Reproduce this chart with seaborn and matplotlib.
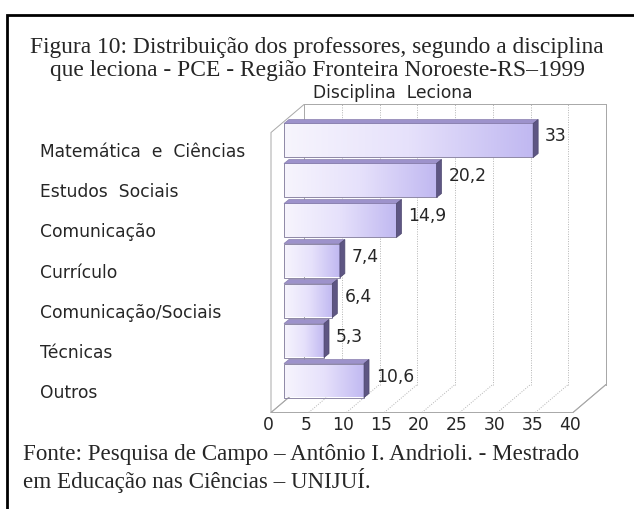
import numpy as np
import matplotlib
matplotlib.use('Agg')
import matplotlib.pyplot as plt
from matplotlib.patches import Polygon, Rectangle
from matplotlib.lines import Line2D
from matplotlib.colors import LinearSegmentedColormap
import seaborn as sns

# =========================================================
# dados
# =========================================================
disciplinas = ['Matemática  e  Ciências', 'Estudos  Sociais', 'Comunicação',
               'Currículo', 'Comunicação/Sociais', 'Técnicas', 'Outros']
valores = [33, 20.2, 14.9, 7.4, 6.4, 5.3, 10.6]
ticks_x = [0, 5, 10, 15, 20, 25, 30, 35, 40]

titulo = ('Figura 10: Distribuição dos professores, segundo a disciplina\n'
          'que leciona - PCE - Região Fronteira Noroeste-RS–1999')
subtitulo = 'Disciplina  Leciona'
fonte = ('Fonte: Pesquisa de Campo – Antônio I. Andrioli. - Mestrado\n'
         'em Educação nas Ciências – UNIJUÍ.')

# =========================================================
# figura
# =========================================================
sns.set_style('white')
W, H = 634, 509
fig = plt.figure(figsize=(W / 100, H / 100), dpi=100)
fig.patch.set_facecolor('white')

sans = ['DejaVu Sans']
serif = ['Liberation Serif', 'DejaVu Serif']
fs = 12.3

# moldura
fig.add_artist(Rectangle((7 / W, -0.1), 1.2, 1.1 - 15 / H,
                         transform=fig.transFigure, fill=False,
                         edgecolor='black', linewidth=2, zorder=5))

fig.text(0.5, 1 - 59 / H, titulo, ha='center', va='center', fontsize=16.9,
         family=serif, linespacing=1.12)
fig.text(393 / W, 1 - 93 / H, subtitulo, ha='center', va='center',
         fontsize=fs, family=sans)
fig.text(23 / W, 1 - 468.5 / H, fonte, ha='left', va='center', fontsize=16.6,
         family=serif, linespacing=1.12)

# plano frontal das barras
ax_l, ax_r, ax_t, ax_b = 284, 586, 120.5, 400.5
ax = fig.add_axes([ax_l / W, (H - ax_b) / H, (ax_r - ax_l) / W, (ax_b - ax_t) / H])
ax.patch.set_visible(False)

sns.barplot(x=valores, y=disciplinas, orient='h', ax=ax, width=0.85,
            color='#d8d2f6', edgecolor='#8e88a6', linewidth=0.7)
ax.set_xlim(0, 40)
ax.set_ylim(len(disciplinas) - 0.5, -0.5)
ax.axis('off')

# profundidade do "3D"
back = (20, 16)     # parede do fundo
front = (-13, -12)  # borda frontal do chão
dep = (5, 4)        # espessura das barras

ybot = ax.transData.transform((0, len(disciplinas) - 0.5))[1]
ytop = ax.transData.transform((0, -0.5))[1]


def X(v):
    return ax.transData.transform((v, 0))[0]


wall = '#a8a8a8'
grid = '#b4b4b4'
lines = []
# parede do fundo
x0b, x1b = X(0) + back[0], X(40) + back[0]
y0b, y1b = ybot + back[1], ytop + back[1]
lines.append(([x0b, x1b, x1b], [y1b, y1b, y0b], '-'))
# chão
x0f, x1f = X(0) + front[0], X(40) + front[0]
y0f = ybot + front[1]
lines.append(([x0f, x1f, x1b], [y0f, y0f, y0b], '-'))
# parede lateral
y1f = ytop + front[1]
lines.append(([x0b, x0f, x0f, x0b], [y1b, y1f, y0f, y0b], '-'))
for v in ticks_x:
    ls = '-' if v in (0, 40) else (0, (1, 1.5))
    lines.append(([X(v) + back[0]] * 2, [y0b, y1b], ls))
    lines.append(([X(v) + front[0], X(v) + back[0]], [y0f, y0b], ls))
for xs, ys, ls in lines:
    fig.add_artist(Line2D(xs, ys, transform=None, color=wall if ls == '-' else grid,
                          linewidth=0.7, linestyle=ls, zorder=-1))

for v in ticks_x:
    ax.annotate(str(v), xy=(v, len(disciplinas) - 0.5), xytext=(front[0] - 3, -25),
                textcoords='offset pixels', ha='center', va='center',
                fontsize=fs, family=sans, annotation_clip=False)

# barras com gradiente e faces superior/lateral
cmap = LinearSegmentedColormap.from_list('lav', ['#f7f5fd', '#e6e1fb', '#c0b8f1'])
grad = np.linspace(0, 1, 256).reshape(1, -1)
for p in ax.patches:
    bx, by, bw, bh = p.get_x(), p.get_y(), p.get_width(), p.get_height()
    ax.imshow(grad, cmap=cmap, extent=(bx, bx + bw, by + bh, by), aspect='auto',
              zorder=1.5, interpolation='bilinear')
    p.set_facecolor('none')
    p.set_zorder(2)
    (px0, py0), (px1, py1) = ax.transData.transform([(bx, by + bh), (bx + bw, by)])
    top = [(px0, py1), (px1, py1), (px1 + dep[0], py1 + dep[1]), (px0 + dep[0], py1 + dep[1])]
    side = [(px1, py0), (px1 + dep[0], py0 + dep[1]), (px1 + dep[0], py1 + dep[1]), (px1, py1)]
    fig.add_artist(Polygon(top, closed=True, transform=None, facecolor='#9d92cb',
                           edgecolor='#8a80b0', linewidth=0.5, zorder=3))
    fig.add_artist(Polygon(side, closed=True, transform=None, facecolor='#5e5683',
                           edgecolor='#4e4870', linewidth=0.5, zorder=3))
ax.set_xlim(0, 40)
ax.set_ylim(len(disciplinas) - 0.5, -0.5)

# rótulos de valor e categorias
for i, (cat, v) in enumerate(zip(disciplinas, valores)):
    ax.annotate(f'{v:g}'.replace('.', ','), xy=(v, i), xytext=(12, 4),
                textcoords='offset pixels', ha='left', va='center',
                fontsize=fs, family=sans, annotation_clip=False)
    ax.annotate(cat, xy=(0, i), xytext=(40 - ax_l, -12),
                textcoords='offset pixels', ha='left', va='center',
                fontsize=fs, family=sans, annotation_clip=False)

fig.savefig('out.png', dpi=100)
